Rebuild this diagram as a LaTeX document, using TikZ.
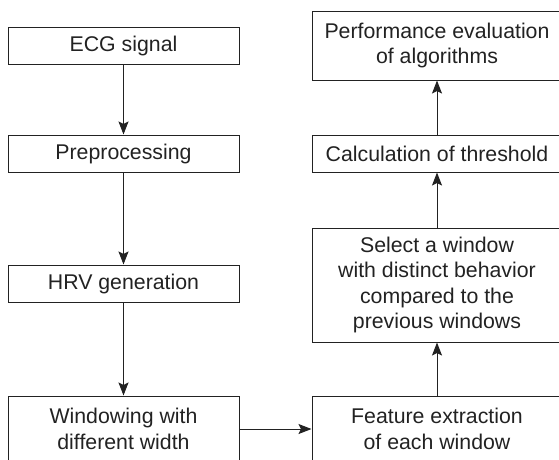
\documentclass[tikz,border=0pt]{standalone}
\usepackage{fontspec}
\setmainfont{Liberation Sans}
\usetikzlibrary{arrows.meta}
\definecolor{ink}{HTML}{222222}
\tikzset{
  box/.style={draw=ink,line width=1pt,inner sep=0pt,align=center,text=ink,
    font=\fontsize{21.3}{25.3}\selectfont},
  lbox/.style={box,minimum width=231pt},
  rbox/.style={box,minimum width=250pt},
  arr/.style={draw=ink,line width=1pt,-{Stealth[length=13pt,width=10pt,inset=2.5pt]}}
}
\begin{document}
\begin{tikzpicture}[x=1pt,y=-1pt]
\useasboundingbox (0,0) rectangle (559,459);
\clip (0,0) rectangle (559,459);
\node[lbox,minimum height=37pt] (ecg) at (123.5,45.5) {ECG signal};
\node[lbox,minimum height=37pt] (pre) at (123.5,153.5) {Preprocessing};
\node[lbox,minimum height=37pt] (hrv) at (123.5,283.5) {HRV generation};
\node[lbox,minimum height=66pt] (win) at (123.5,429) {Windowing with\\different width};
\node[rbox,minimum height=66pt] (feat) at (437,429) {Feature extraction\\of each window};
\node[rbox,minimum height=114pt] (sel) at (437,285) {Select a window\\with distinct behavior\\compared to the\\previous windows};
\node[rbox,minimum height=37pt] (calc) at (437,153.5) {Calculation of threshold};
\node[rbox,minimum height=69pt] (perf) at (437,45.5) {Performance evaluation\\of algorithms};
\draw[arr] (ecg) -- (pre);
\draw[arr] (pre) -- (hrv);
\draw[arr] (hrv) -- (win);
\draw[arr] (win) -- (feat);
\draw[arr] (feat) -- (sel);
\draw[arr] (sel) -- (calc);
\draw[arr] (calc) -- (perf);
\end{tikzpicture}
\end{document}
